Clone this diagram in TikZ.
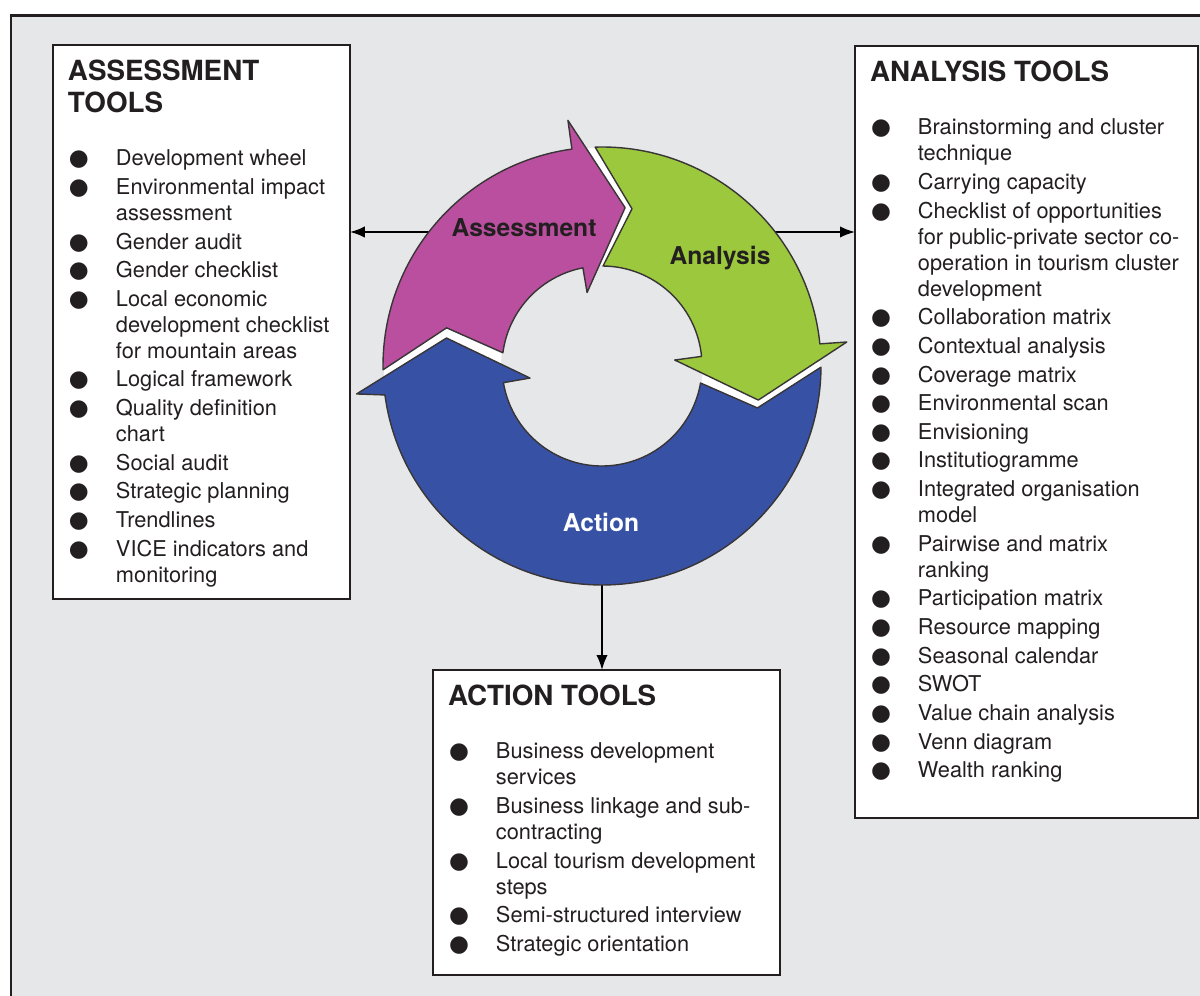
\documentclass[tikz,border=0pt]{standalone}
\usepackage{fontspec}
\setmainfont{TeX Gyre Heros}
\newfontfamily\bulletfont{DejaVu Sans}
\usepackage{xcolor}
\usetikzlibrary{positioning}
\usetikzlibrary{arrows.meta}

\definecolor{ringpink}{HTML}{B94F9E}
\definecolor{ringgreen}{HTML}{9BC83C}
\definecolor{ringblue}{HTML}{3752A5}
\definecolor{panelgray}{HTML}{E6E7E9}
\definecolor{inkgray}{HTML}{231F20}

\newcommand{\toolhead}[1]{{\fontsize{15.8pt}{18.2pt}\selectfont\bfseries #1\par}\vspace{14pt}}
\newcommand{\toolitem}[1]{\par\vspace{1.5pt}\hangindent=0.96cm\hangafter=1\noindent
  \makebox[0.96cm][l]{\hspace{0.02cm}{\bulletfont\fontsize{13pt}{14.8pt}\selectfont ●}}#1}

\begin{document}
\begin{tikzpicture}[
      x=0.02cm, y=0.02cm,
      type-frame/.style={draw=inkgray, line width=1.7pt, fill=panelgray},
      type-tools/.style={rectangle, draw=inkgray, line width=1.4pt, fill=white,
        anchor=north west, inner sep=0.3cm, outer sep=0pt, text=inkgray,
        font=\fontsize{12.4pt}{14.8pt}\selectfont},
      type-ring/.style={draw=inkgray!90, line width=0.8pt, line join=round},
      type-label/.style={font=\fontsize{14pt}{16pt}\selectfont\bfseries, text=inkgray},
      every edge/.style={draw, line width=1.1pt, -{Latex[length=8.5pt,width=6.5pt]}}
    ]
      \path[use as bounding box] (0,0) rectangle (1200,-996);
      \clip (0,0) rectangle (1200,-996);
      \fill[white] (0,0) rectangle (1200,-996);
      \draw[type-frame] (11,-16) rectangle (1220,-1020);

      % tool boxes
      \node[type-tools] (assess) at (53,-45) {\parbox[t][10.48cm][t]{5.34cm}{\raggedright\parskip=0pt
        \toolhead{ASSESSMENT\\TOOLS}
        \toolitem{Development wheel}
        \toolitem{Environmental impact\newline assessment}
        \toolitem{Gender audit}
        \toolitem{Gender checklist}
        \toolitem{Local economic\newline development checklist\newline for mountain areas}
        \toolitem{Logical framework}
        \toolitem{Quality definition\newline chart}
        \toolitem{Social audit}
        \toolitem{Strategic planning}
        \toolitem{Trendlines}
        \toolitem{VICE indicators and\newline monitoring}}};
      \node[type-tools] (analysis) at (855,-46) {\parbox[t][14.84cm][t]{6.26cm}{\raggedright\parskip=0pt
        \toolhead{ANALYSIS TOOLS}
        \toolitem{Brainstorming and cluster\newline technique}
        \toolitem{Carrying capacity}
        \toolitem{Checklist of opportunities\newline for public-private sector co-\newline operation in tourism cluster\newline development}
        \toolitem{Collaboration matrix}
        \toolitem{Contextual analysis}
        \toolitem{Coverage matrix}
        \toolitem{Environmental scan}
        \toolitem{Envisioning}
        \toolitem{Institutiogramme}
        \toolitem{Integrated organisation\newline model}
        \toolitem{Pairwise and matrix\newline ranking}
        \toolitem{Participation matrix}
        \toolitem{Resource mapping}
        \toolitem{Seasonal calendar}
        \toolitem{SWOT}
        \toolitem{Value chain analysis}
        \toolitem{Venn diagram}
        \toolitem{Wealth ranking}}};
      \node[type-tools] (action) at (433,-670) {\parbox[t][5.5cm][t]{6.34cm}{\raggedright\parskip=0pt
        \toolhead{ACTION TOOLS}
        \toolitem{Business development\newline services}
        \toolitem{Business linkage and sub-\newline contracting}
        \toolitem{Local tourism development\newline steps}
        \toolitem{Semi-structured interview}
        \toolitem{Strategic orientation}}};

      % connectors from the ring
      \coordinate (ringW) at (429,-232);
      \coordinate (ringE) at (775,-232);
      \coordinate (ringS) at (602,-585);
      \path (ringW) edge (ringW -| assess.east)
            (ringE) edge (ringE -| analysis.west)
            (ringS) edge (ringS |- action.north);

      % cycle of three arrows
      \begin{scope}[shift={(602,-366)}]
        \fill[white, even odd rule] (0,0) circle[radius=218] (0,0) circle[radius=101];
        \draw[type-ring, fill=ringpink] (181:219) arc[start angle=181, end angle=97.9, radius=219]
          -- (97.9:248) -- (81.7:160) -- (101.5:75) -- (101:100)
          arc[start angle=101, end angle=172.4, radius=100] -- (166.2:160) -- cycle;
        \draw[type-ring, fill=ringgreen] (91.8:219) arc[start angle=91.8, end angle=5.8, radius=219]
          -- (5.6:246) -- (-12.3:160) -- (4.7:73) -- (5.5:100)
          arc[start angle=5.5, end angle=89.4, radius=100] -- (79.2:160) -- cycle;
        \draw[type-ring, fill=ringblue] (-0.3:219) arc[start angle=-0.3, end angle=-172.4, radius=219]
          -- (-173.5:247) -- (-190.2:158) -- (-170.5:73) -- (-170.4:100)
          arc[start angle=-170.4, end angle=-9.8, radius=100] -- (-15.1:161) -- cycle;
      \end{scope}
      \node[type-label] (lbl-assess) at (524,-228) {Assessment};
      \node[type-label] (lbl-analysis) at (720,-258) {Analysis};
      \node[type-label, text=white] (lbl-action) at (601,-522) {Action};
    \end{tikzpicture}
\end{document}
